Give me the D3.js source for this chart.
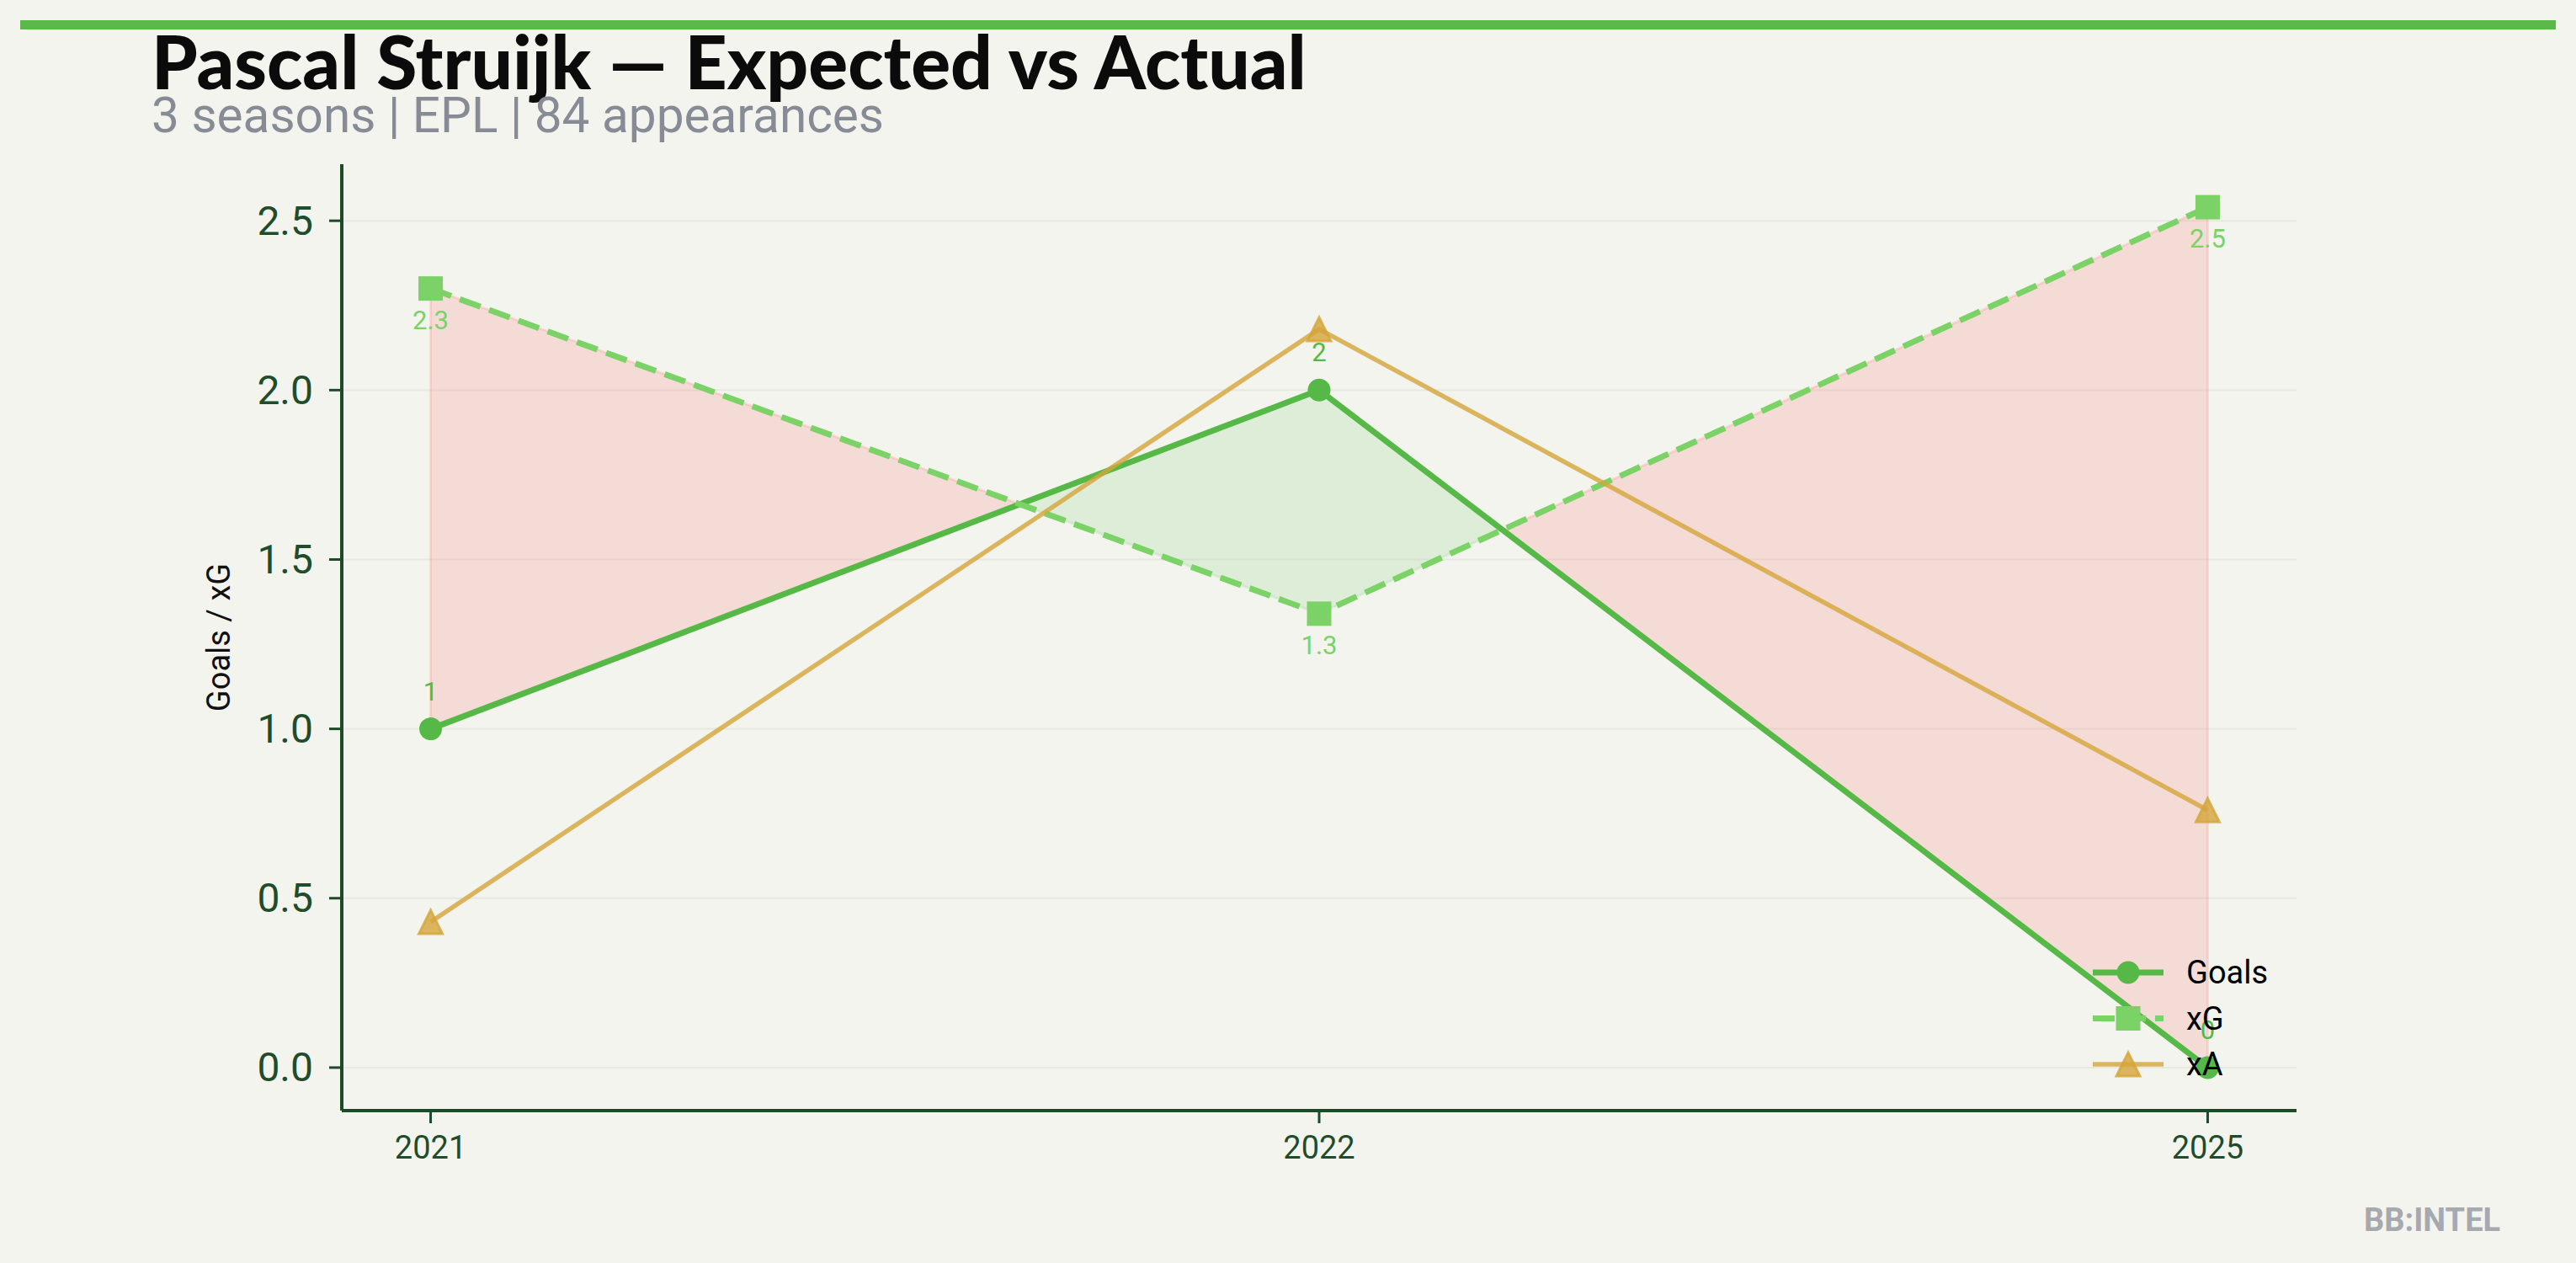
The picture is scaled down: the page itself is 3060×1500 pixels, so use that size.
<!DOCTYPE html>
<html>
<head>
<meta charset="utf-8">
<script src="https://cdn.jsdelivr.net/npm/d3@7"></script>
<style>
  html, body { margin: 0; padding: 0; background: #f4f4ef; }
  svg { display: block; }
</style>
</head>
<body>
<script>
// ---------- data ----------
const seasons = ["2021", "2022", "2025"];
const goals = [1, 2, 0];
const xg = [2.30, 1.34, 2.54];
const xa = [0.43, 2.18, 0.76];
const yTicks = [0, 0.5, 1.0, 1.5, 2.0, 2.5];
const titleText = "Pascal Struijk \u2014 Expected vs Actual";
const subtitleText = "3 seasons | EPL | 84 appearances";
const yLabel = "Goals / xG";
const seriesNames = ["Goals", "xG", "xA"];
const watermark = "BB:INTEL";

// ---------- layout / style ----------
const W = 3060, H = 1500;
const plot = { left: 406, right: 2728, top: 195, bottom: 1319 };
const C = {
  bg: "#f4f4ef",
  goals: "#56b947",
  xg: "#7bd266",
  xa: "#d4a53a",
  axis: "#1d4a27",
  tick: "#1f4d2b",
  grid: "#e8e8e1",
  red: "#fc7a72",
  green: "#86d17c",
  bar: "#5bb94b",
  sub: "#868b95",
  wm: "#a6a9b0"
};
const FONT = "Roboto, 'Noto Sans', sans-serif";

const svg = d3.select("body").append("svg")
  .attr("width", W).attr("height", H)
  .style("background", C.bg);

svg.append("rect").attr("width", W).attr("height", H).attr("fill", C.bg);

// top bar
svg.append("rect").attr("x", 24).attr("y", 24).attr("width", W - 48).attr("height", 11).attr("fill", C.bar);

// title
const title = svg.append("text")
  .attr("x", 180).attr("y", 106)
  .attr("font-family", "Lato, 'Open Sans', sans-serif")
  .attr("font-weight", 900)
  .attr("font-size", 82)
  .attr("fill", "#0b0b0b")
  .text(titleText);
{
  const w = title.node().getComputedTextLength();
  const target = 1372;
  let fs = 82 * target / w;
  fs = Math.max(70, Math.min(90, fs));
  title.attr("font-size", fs);
  const w2 = title.node().getComputedTextLength();
  if (Math.abs(w2 - target) > 8) title.attr("textLength", target).attr("lengthAdjust", "spacing");
}

svg.append("text")
  .attr("x", 180).attr("y", 157)
  .attr("font-family", FONT)
  .attr("font-size", 58.5)
  .attr("fill", C.sub)
  .text(subtitleText);

// ---------- scales ----------
const x = d3.scalePoint().domain(seasons).range([plot.left, plot.right]).padding(0.1);
const all = goals.concat(xg, xa);
const yMin = d3.min(all), yMax = d3.max(all);
const pad = 0.05 * (yMax - yMin);
const y = d3.scaleLinear().domain([yMin - pad, yMax + pad]).range([plot.bottom, plot.top]);

// grid
svg.append("g").selectAll("line").data(yTicks).join("line")
  .attr("x1", plot.left).attr("x2", plot.right)
  .attr("y1", d => y(d)).attr("y2", d => y(d))
  .attr("stroke", C.grid).attr("stroke-width", 2);

// ---------- fill between goals and xG ----------
function buildRuns(a, b) {
  const pts = [];
  for (let i = 0; i < seasons.length; i++) {
    pts.push({ x: x(seasons[i]), a: a[i], b: b[i] });
    if (i < seasons.length - 1) {
      const d0 = a[i] - b[i], d1 = a[i + 1] - b[i + 1];
      if (d0 * d1 < 0) {
        const t = d0 / (d0 - d1);
        const xx = x(seasons[i]) + t * (x(seasons[i + 1]) - x(seasons[i]));
        const v = a[i] + t * (a[i + 1] - a[i]);
        pts.push({ x: xx, a: v, b: v, cross: true });
      }
    }
  }
  const runs = [];
  let cur = [pts[0]];
  let sign = Math.sign(pts[0].a - pts[0].b);
  for (let k = 1; k < pts.length; k++) {
    const p = pts[k];
    cur.push(p);
    if (p.cross) {
      runs.push({ sign, pts: cur });
      cur = [p];
      sign = null;
    } else if (sign === null || sign === 0) {
      sign = Math.sign(p.a - p.b);
    }
  }
  runs.push({ sign, pts: cur });
  return runs;
}
const area = d3.area().x(p => p.x).y0(p => y(p.a)).y1(p => y(p.b));
svg.append("g").selectAll("path").data(buildRuns(goals, xg)).join("path")
  .attr("d", r => area(r.pts) + "")
  .attr("fill", r => r.sign > 0 ? C.green : C.red)
  .attr("fill-opacity", 0.2)
  .attr("stroke", r => r.sign > 0 ? C.green : C.red)
  .attr("stroke-opacity", 0.2)
  .attr("stroke-width", 3);

// ---------- axes ----------
const gy = svg.append("g");
gy.append("line").attr("x1", plot.left).attr("x2", plot.left).attr("y1", plot.top).attr("y2", plot.bottom)
  .attr("stroke", C.axis).attr("stroke-width", 4);
gy.selectAll("line.t").data(yTicks).join("line").attr("class", "t")
  .attr("x1", plot.left - 15).attr("x2", plot.left)
  .attr("y1", d => y(d)).attr("y2", d => y(d))
  .attr("stroke", C.axis).attr("stroke-width", 3);
gy.selectAll("text").data(yTicks).join("text")
  .attr("x", plot.left - 34).attr("y", d => y(d))
  .attr("text-anchor", "end").attr("dominant-baseline", "central")
  .attr("font-family", FONT).attr("font-size", 48).attr("fill", C.tick)
  .text(d => d3.format(".1f")(d));

const gx = svg.append("g");
gx.append("line").attr("x1", plot.left).attr("x2", plot.right).attr("y1", plot.bottom).attr("y2", plot.bottom)
  .attr("stroke", C.axis).attr("stroke-width", 4);
gx.selectAll("line.t").data(seasons).join("line").attr("class", "t")
  .attr("x1", d => x(d)).attr("x2", d => x(d))
  .attr("y1", plot.bottom).attr("y2", plot.bottom + 15)
  .attr("stroke", C.axis).attr("stroke-width", 3);
gx.selectAll("text").data(seasons).join("text")
  .attr("x", d => x(d)).attr("y", 1376)
  .attr("text-anchor", "middle")
  .attr("font-family", FONT).attr("font-size", 38).attr("fill", C.tick)
  .text(d => d);

svg.append("text")
  .attr("transform", `translate(273,${(plot.top + plot.bottom) / 2}) rotate(-90)`)
  .attr("text-anchor", "middle")
  .attr("font-family", FONT).attr("font-size", 38).attr("fill", "#111")
  .text(yLabel);

// ---------- lines & markers ----------
const line = d3.line().x((d, i) => x(seasons[i])).y(d => y(d));

function triPath(s) {
  const h = s / 2;
  return `M0,${-h}L${h},${h}L${-h},${h}Z`;
}
function sqPath(s) {
  const h = s / 2;
  return `M${-h},${-h}H${h}V${h}H${-h}Z`;
}

// Goals
svg.append("path").attr("d", line(goals)).attr("fill", "none")
  .attr("stroke", C.goals).attr("stroke-width", 7).attr("stroke-linejoin", "round");
svg.append("g").selectAll("circle").data(goals).join("circle")
  .attr("cx", (d, i) => x(seasons[i])).attr("cy", d => y(d)).attr("r", 13.5)
  .attr("fill", C.goals);

// xG
svg.append("path").attr("d", line(xg)).attr("fill", "none")
  .attr("stroke", C.xg).attr("stroke-width", 7).attr("stroke-dasharray", "26,11");
svg.append("g").selectAll("path").data(xg).join("path")
  .attr("transform", (d, i) => `translate(${x(seasons[i])},${y(d)})`)
  .attr("d", sqPath(29)).attr("fill", C.xg);

// xA
svg.append("path").attr("d", line(xa)).attr("fill", "none")
  .attr("stroke", C.xa).attr("stroke-opacity", 0.8).attr("stroke-width", 5.5);
svg.append("g").selectAll("path").data(xa).join("path")
  .attr("transform", (d, i) => `translate(${x(seasons[i])},${y(d)})`)
  .attr("d", triPath(28)).attr("fill", C.xa).attr("fill-opacity", 0.8)
  .attr("stroke", C.xa).attr("stroke-opacity", 0.8).attr("stroke-width", 3);

// value labels
svg.append("g").selectAll("text").data(goals).join("text")
  .attr("x", (d, i) => x(seasons[i])).attr("y", d => y(d) - 34)
  .attr("text-anchor", "middle")
  .attr("font-family", FONT).attr("font-size", 31).attr("fill", C.goals)
  .text(d => d3.format("d")(d));
svg.append("g").selectAll("text").data(xg).join("text")
  .attr("x", (d, i) => x(seasons[i])).attr("y", d => y(d) + 48)
  .attr("text-anchor", "middle")
  .attr("font-family", FONT).attr("font-size", 31).attr("fill", C.xg)
  .text(d => d3.format(".1f")(d));

// ---------- legend ----------
const legendItems = [
  { name: seriesNames[0], color: C.goals, dash: null, marker: "circle", op: 1, lw: 7 },
  { name: seriesNames[1], color: C.xg, dash: "26,11", marker: "square", op: 1, lw: 7 },
  { name: seriesNames[2], color: C.xa, dash: null, marker: "tri", op: 0.8, lw: 5.5 }
];
const lg = svg.append("g");
legendItems.forEach((it, i) => {
  const cy = 1155 + i * 54.5;
  const g = lg.append("g").attr("transform", `translate(2486,${cy})`);
  g.append("line").attr("x1", 0).attr("x2", 84).attr("y1", 0).attr("y2", 0)
    .attr("stroke", it.color).attr("stroke-width", it.lw).attr("stroke-opacity", it.op)
    .attr("stroke-dasharray", it.dash);
  if (it.marker === "circle") {
    g.append("circle").attr("cx", 42).attr("cy", 0).attr("r", 13.5).attr("fill", it.color);
  } else if (it.marker === "square") {
    g.append("path").attr("transform", "translate(42,0)").attr("d", sqPath(29)).attr("fill", it.color);
  } else {
    g.append("path").attr("transform", "translate(42,0)").attr("d", triPath(28))
      .attr("fill", it.color).attr("fill-opacity", 0.8)
      .attr("stroke", it.color).attr("stroke-opacity", 0.8).attr("stroke-width", 3);
  }
  g.append("text").attr("x", 111).attr("y", 0).attr("dominant-baseline", "central")
    .attr("font-family", FONT).attr("font-size", 38).attr("fill", "#000")
    .text(it.name);
});

// watermark
svg.append("text").attr("x", 2808).attr("y", 1462)
  .attr("font-family", FONT).attr("font-weight", 700).attr("font-size", 38)
  .attr("fill", C.wm)
  .text(watermark);
</script>
</body>
</html>
